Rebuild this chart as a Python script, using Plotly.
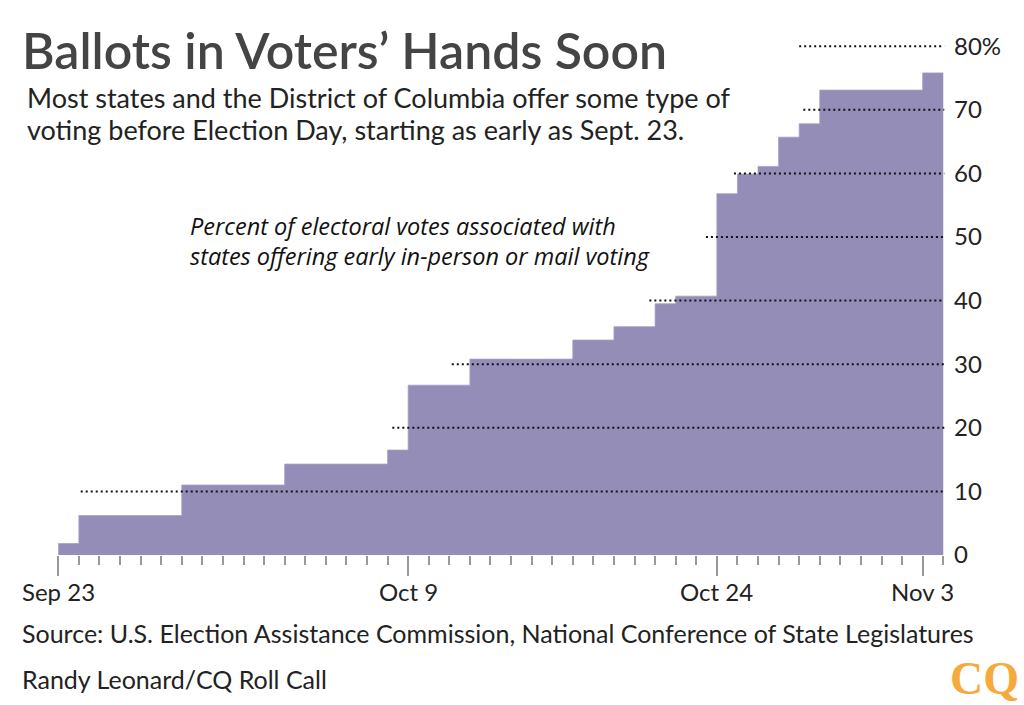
import plotly.graph_objects as go

# ---- data ----
step_days = [0, 1, 6, 11, 16, 17, 20, 25, 27, 29, 30, 32, 33, 34, 35, 36, 37, 42]
step_values = [1.8, 6.2, 11.0, 14.3, 16.5, 26.7, 30.8, 33.8, 35.9, 39.5, 40.7,
               56.8, 59.9, 61.1, 65.7, 67.8, 73.1, 75.8]
end_day = 43

x_tick_days = [0, 17, 32, 42]
x_tick_labels = ["Sep 23", "Oct 9", "Oct 24", "Nov 3"]

y_tick_vals = [0, 10, 20, 30, 40, 50, 60, 70, 80]
y_tick_labels = ["0", "10", "20", "30", "40", "50", "60", "70", "80%"]

grid_levels = [10, 20, 30, 40, 50, 60, 70, 80]
grid_start_days = [1.09, 16.23, 19.12, 28.72, 31.47, 32.83, 36.2, 36.0]
grid_end_day = 43.05

title = "Ballots in Voters’ Hands Soon"
subtitle_lines = ["Most states and the District of Columbia offer some type of",
                  "voting before Election Day, starting as early as Sept. 23."]
note_lines = ["Percent of electoral votes associated with",
              "states offering early in-person or mail voting"]
source = "Source: U.S. Election Assistance Commission, National Conference of State Legislatures"
credit = "Randy Leonard/CQ Roll Call"

# ---- layout geometry ----
W, H = 1024, 705
L, R, T, B = 40, 74, 30, 150
plot_w = W - L - R
plot_h = H - T - B
px_per_day = 20.58
day0_px = 58.3
px_per_unit = 6.36

x_range = [(L - day0_px) / px_per_day, (W - R - day0_px) / px_per_day]
y_range = [0, plot_h / px_per_unit]


def pxx(px):
    return (px - L) / plot_w


def pxy(py):
    return (H - B - py) / plot_h


FILL = "#948DB8"
FONT = "Lato"

xs = step_days + [end_day]
ys = step_values + [step_values[-1]]

fig = go.Figure()
fig.add_trace(go.Scatter(
    x=xs, y=ys, mode="lines", line=dict(shape="hv", width=0.8, color="#A59FC6"),
    fill="tozeroy", fillcolor=FILL, hoverinfo="skip", showlegend=False))

for lvl, sd in zip(grid_levels, grid_start_days):
    fig.add_shape(type="line", xref="x", yref="y", x0=sd, x1=grid_end_day, y0=lvl, y1=lvl,
                  line=dict(color="#111111", width=2, dash="2px,3px"), layer="above")

fig.update_layout(
    width=W, height=H, margin=dict(l=L, r=R, t=T, b=B),
    paper_bgcolor="white", plot_bgcolor="white", showlegend=False,
    xaxis=dict(range=x_range, showgrid=False, zeroline=False, showline=False,
               tickmode="array", tickvals=x_tick_days, ticktext=x_tick_labels,
               showticklabels=False,
               ticks="outside", ticklen=20, tickwidth=1.5, tickcolor="#999999",
               minor=dict(tick0=0, dtick=1, ticks="outside", ticklen=9, tickwidth=1.5,
                          tickcolor="#999999", showgrid=False)),
    yaxis=dict(range=y_range, side="right", showgrid=False, zeroline=False, showline=False,
               tickmode="array", tickvals=y_tick_vals, ticktext=y_tick_labels,
               ticks="", ticklabelstandoff=3,
               tickfont=dict(family=FONT, size=24, color="#222222")),
)

ann = []
for d, lab in zip(x_tick_days, x_tick_labels):
    ann.append(dict(text=lab, x=d, xref="x", y=pxy(591), yref="paper",
                    xanchor="center", yanchor="middle",
                    font=dict(family=FONT, size=24, color="#222222")))
ann.append(dict(text=title, x=pxx(20), y=pxy(50), xanchor="left", yanchor="middle",
                font=dict(family=FONT, size=50, color="#444444", weight=600)))
for i, line in enumerate(subtitle_lines):
    ann.append(dict(text=line, x=pxx(25), y=pxy(97 + 32 * i), xanchor="left", yanchor="middle",
                    font=dict(family=FONT, size=27, color="#222222")))
for i, line in enumerate(note_lines):
    ann.append(dict(text=line, x=pxx(188), y=pxy(226 + 30 * i), xanchor="left", yanchor="middle",
                    font=dict(family="Open Sans", size=23.5, color="#111111", style="italic")))
ann.append(dict(text=source, x=pxx(20), y=pxy(633), xanchor="left", yanchor="middle",
                font=dict(family=FONT, size=25, color="#222222")))
ann.append(dict(text=credit, x=pxx(20), y=pxy(679), xanchor="left", yanchor="middle",
                font=dict(family=FONT, size=25, color="#222222")))
ann.append(dict(text="<b>CQ</b>", x=pxx(948), y=pxy(678), xanchor="left", yanchor="middle",
                font=dict(family="Liberation Serif", size=46, color="#F6AA3C")))
for a in ann:
    a.setdefault("xref", "paper")
    a.setdefault("yref", "paper")
    a["showarrow"] = False
fig.update_layout(annotations=ann)

fig.write_html("out.html", config={"displayModeBar": False},
               post_script="document.body.style.margin='0px';")
